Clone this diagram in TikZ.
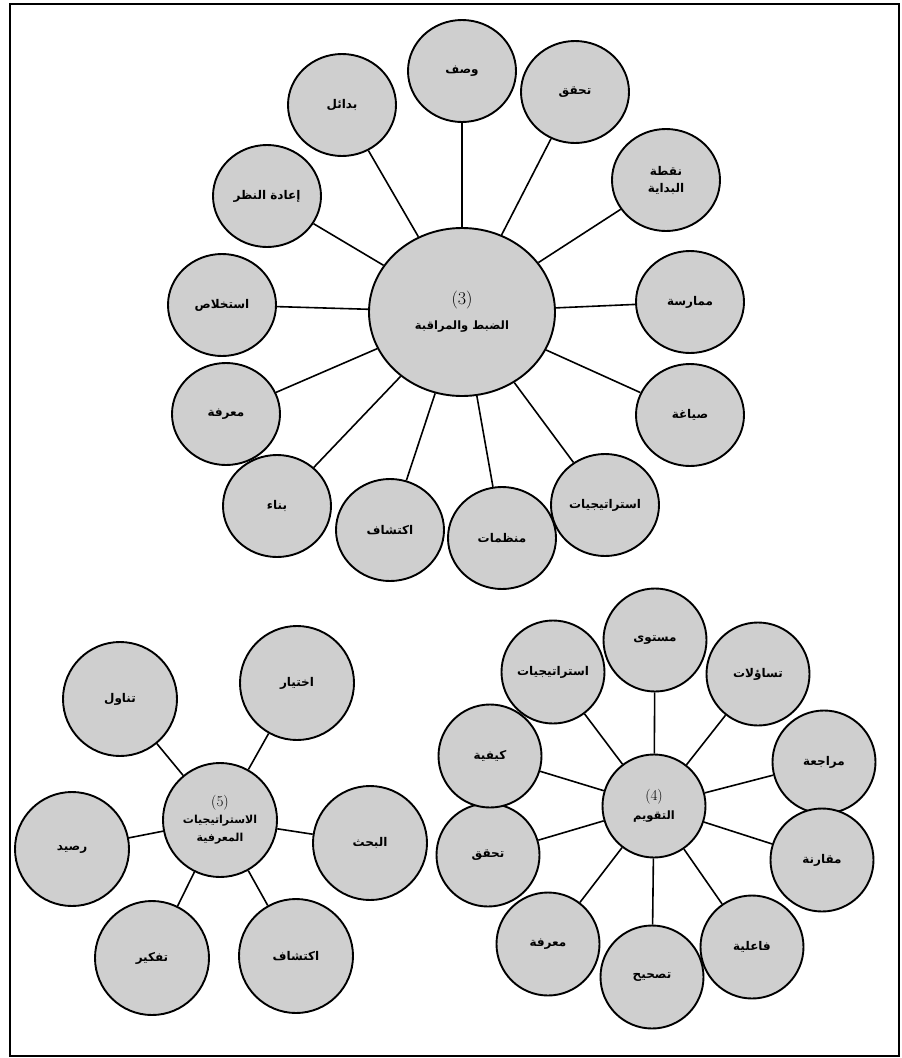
\documentclass[tikz,border=0pt]{standalone}
\usepackage{fontspec}
\usetikzlibrary{shapes.geometric}
\TeXXeTstate=1
\newfontfamily\arabicfont[Script=Arabic]{DejaVu Sans}
\newcommand{\AR}[1]{{\arabicfont\bfseries\beginR #1\endR}}
\begin{document}
\begin{tikzpicture}[x=1pt,y=-1pt,
  bub/.style={ellipse, draw=black, line width=1.9pt, fill=black!19, inner sep=0pt, align=center, font=\fontsize{12}{15}\selectfont},
  sat3/.style={bub, minimum width=108pt, minimum height=102pt},
  sat4/.style={bub, minimum width=103pt, minimum height=103pt},
  sat5/.style={bub, minimum width=114pt, minimum height=114pt},
  hub3/.style={bub, minimum width=186pt, minimum height=168pt, font=\fontsize{11.5}{14}\selectfont},
  hub4/.style={bub, minimum width=103pt, minimum height=103pt, font=\fontsize{11.5}{14}\selectfont},
  hub5/.style={bub, minimum width=114pt, minimum height=114pt, font=\fontsize{11}{15}\selectfont},
  link/.style={draw=black, line width=1.6pt},
  frame/.style={draw=black, line width=2.6pt}]
\useasboundingbox (0,0) rectangle (902,1058);
\draw[frame] (10,4) rectangle (899,1056);

% cluster 3
\node[hub3] (c3) at (462,312) {{\rmfamily\mdseries\fontsize{18}{20}\selectfont (3)}\\[11pt]\AR{الضبط والمراقبة}};
\node[sat3] (a1) at (462,71) {\AR{وصف}};
\node[sat3] (a2) at (575,92) {\AR{تحقق}};
\node[sat3] (a3) at (666,180) {\AR{نقطة}\\[2pt]\AR{البداية}};
\node[sat3] (a4) at (690,302) {\AR{ممارسة}};
\node[sat3] (a5) at (690,415) {\AR{صياغة}};
\node[sat3] (a6) at (605,505) {\AR{استراتيجيات}};
\node[sat3] (a7) at (502,538) {\AR{منظمات}};
\node[sat3] (a8) at (390,530) {\AR{اكتشاف}};
\node[sat3] (a9) at (277,506) {\AR{بناء}};
\node[sat3] (a10) at (226,414) {\AR{معرفة}};
\node[sat3] (a11) at (222,305) {\AR{استخلاص}};
\node[sat3] (a12) at (267,196) {\AR{إعادة النظر}};
\node[sat3] (a13) at (342,105) {\AR{بدائل}};
\foreach \i in {1,...,13} {\draw[link] (c3) -- (a\i);}

% cluster 4
\node[hub4] (c4) at (654,806) {{\rmfamily\mdseries\fontsize{15}{17}\selectfont (4)}\\[5pt]\AR{التقويم}};
\node[sat4] (b1) at (655,640) {\AR{مستوى}};
\node[sat4] (b2) at (758,674) {\AR{تساؤلات}};
\node[sat4] (b3) at (824,762) {\AR{مراجعة}};
\node[sat4] (b4) at (822,860) {\AR{مقارنة}};
\node[sat4] (b5) at (752,947) {\AR{فاعلية}};
\node[sat4] (b6) at (652,977) {\AR{تصحيح}};
\node[sat4] (b7) at (548,944) {\AR{معرفة}};
\node[sat4] (b8) at (488,855) {\AR{تحقق}};
\node[sat4] (b9) at (490,756) {\AR{كيفية}};
\node[sat4] (b10) at (553,672) {\AR{استراتيجيات}};
\foreach \i in {1,...,10} {\draw[link] (c4) -- (b\i);}

% cluster 5
\node[hub5] (c5) at (220,820) {{\rmfamily\mdseries\fontsize{15}{17}\selectfont (5)}\\[2pt]\AR{الاستراتيجيات}\\[3pt]\AR{المعرفية}};
\node[sat5] (d1) at (120,699) {\AR{تناول}};
\node[sat5] (d2) at (297,683) {\AR{اختيار}};
\node[sat5] (d3) at (370,843) {\AR{البحث}};
\node[sat5] (d4) at (296,956) {\AR{اكتشاف}};
\node[sat5] (d5) at (152,958) {\AR{تفكير}};
\node[sat5] (d6) at (72,849) {\AR{رصيد}};
\foreach \i in {1,...,6} {\draw[link] (c5) -- (d\i);}
\end{tikzpicture}
\end{document}
